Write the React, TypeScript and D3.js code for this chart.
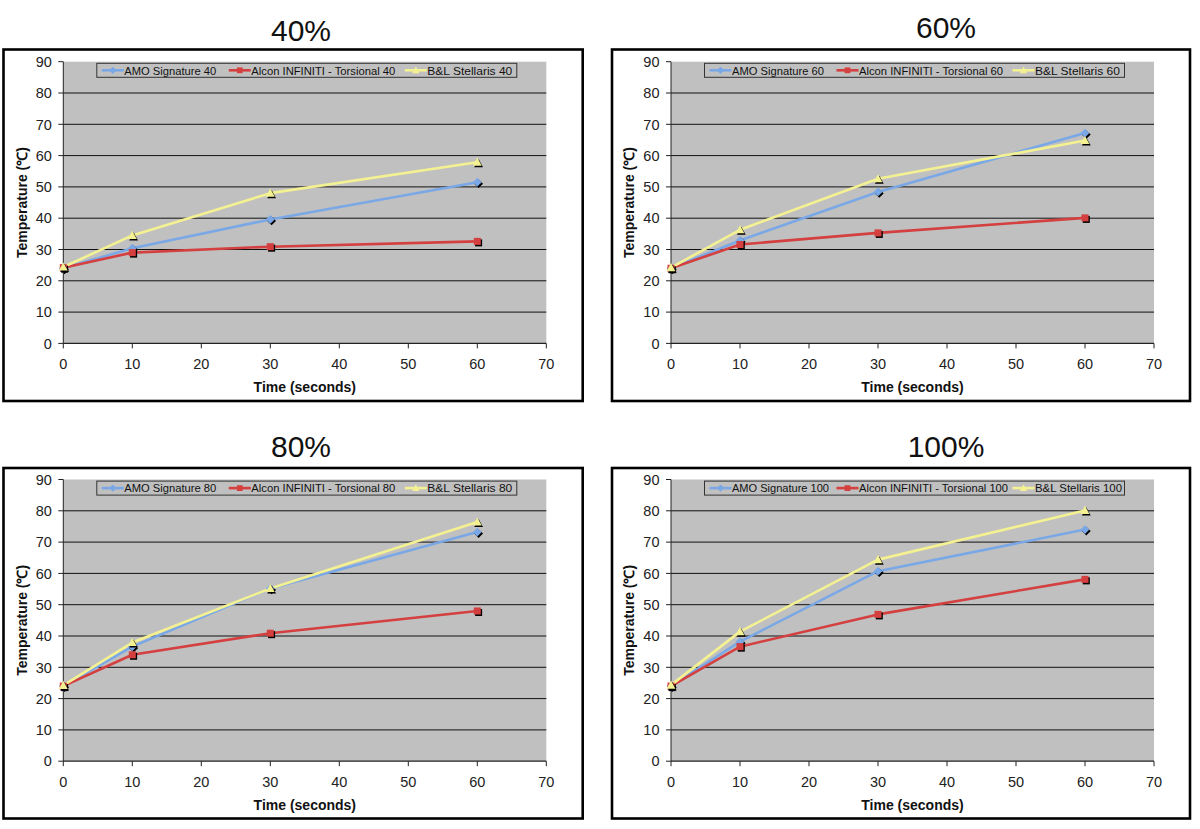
import React from "react";
import * as d3 from "d3";

const times = [0, 10, 30, 60];
const powerLevels = ["40", "60", "80", "100"];
const seriesNames = ["AMO Signature", "Alcon INFINITI - Torsional", "B&L Stellaris"];
const amoValues = [
  [24, 30.4, 39.6, 51.5],
  [24, 32.9, 48.4, 67.2],
  [24, 36.6, 55.2, 73.2],
  [24, 38.2, 60.7, 74.0],
];
const alconValues = [
  [24.2, 29.0, 30.9, 32.6],
  [24, 31.6, 35.3, 40.1],
  [24, 34.0, 40.9, 48.0],
  [24, 36.6, 46.9, 58.1],
];
const stellarisValues = [
  [24.4, 34.5, 48.0, 57.9],
  [24.2, 36.3, 52.6, 64.8],
  [24.2, 37.9, 55.2, 76.4],
  [24.3, 41.4, 64.4, 80.1],
];
const xTicks = [0, 10, 20, 30, 40, 50, 60, 70];
const yTicks = [0, 10, 20, 30, 40, 50, 60, 70, 80, 90];

const colors = ["#7AA8E6", "#D43F3F", "#F4F192"];
const markerTypes = ["diamond", "square", "triangle"];
const FONT = "'Liberation Sans', Arial, sans-serif";

const PW = 483;
const PH = 281.7;

// layout of the four panels
const panels = [
  { px: 63.3, py: 61.7, box: [3.5, 49.5, 582.7, 401], tx: 301, ty: 40.5 },
  { px: 671, py: 61.7, box: [612, 49.5, 1190, 401], tx: 946, ty: 37.5 },
  { px: 63.3, py: 479.5, box: [3.5, 468, 582.7, 818.5], tx: 301, ty: 457 },
  { px: 671, py: 479.5, box: [612, 468, 1190, 818.5], tx: 946, ty: 457 },
];

function markerPath(type: string, s: number) {
  if (type === "diamond") return `M0,${-s}L${s},0L0,${s}L${-s},0Z`;
  if (type === "square") return `M${-s * 0.8},${-s * 0.8}H${s * 0.8}V${s * 0.8}H${-s * 0.8}Z`;
  return `M0,${-s * 1.05}L${s},${s * 0.8}L${-s},${s * 0.8}Z`;
}

function Panel({ idx }: { idx: number }) {
  const p = panels[idx];
  const level = powerLevels[idx];
  const x = d3.scaleLinear().domain([0, 70]).range([0, PW]);
  const y = d3.scaleLinear().domain([0, 90]).range([PH, 0]);
  const line = d3
    .line<[number, number]>()
    .x((d) => x(d[0]))
    .y((d) => y(d[1]));
  const allSeries = [amoValues[idx], alconValues[idx], stellarisValues[idx]];
  const three = level.length === 3;
  const legendOffsets = [5, 132, 308];
  const legendWidths = three ? [97, 149, 87] : [92, 144, 85];
  const [bx0, by0, bx1, by1] = p.box;
  return (
    <g>
      <text
        x={p.tx}
        y={p.ty}
        textAnchor="middle"
        fontFamily={FONT}
        fontSize={30}
        fill="#111"
      >
        {level}%
      </text>
      <rect
        x={bx0}
        y={by0}
        width={bx1 - bx0}
        height={by1 - by0}
        fill="#fff"
        stroke="#000"
        strokeWidth={2.6}
      />
      <g transform={`translate(${p.px},${p.py})`}>
        <rect x={0} y={0} width={PW} height={PH} fill="#C0C0C0" />
        {yTicks
          .filter((t) => t > 0 && t < 90)
          .map((t) => (
            <line key={t} x1={0} x2={PW} y1={y(t)} y2={y(t)} stroke="#111" strokeWidth={1} />
          ))}
        {/* axes */}
        <line x1={0} x2={0} y1={0} y2={PH} stroke="#222" strokeWidth={1} />
        <line x1={0} x2={PW} y1={PH} y2={PH} stroke="#222" strokeWidth={1.2} />
        {yTicks.map((t) => (
          <g key={"y" + t}>
            <line x1={-5} x2={0} y1={y(t)} y2={y(t)} stroke="#222" />
            <text
              x={-11.5}
              y={y(t)}
              dy="0.36em"
              textAnchor="end"
              fontFamily={FONT}
              fontSize={14.5}
              fill="#222"
            >
              {t}
            </text>
          </g>
        ))}
        {xTicks.map((t) => (
          <g key={"x" + t}>
            <line x1={x(t)} x2={x(t)} y1={PH} y2={PH + 5} stroke="#222" />
            <text
              x={x(t)}
              y={PH + 25.5}
              textAnchor="middle"
              fontFamily={FONT}
              fontSize={14.5}
              fill="#222"
            >
              {t}
            </text>
          </g>
        ))}
        <text
          x={x(35)}
          y={PH + 48.5}
          textAnchor="middle"
          fontFamily={FONT}
          fontSize={14}
          fontWeight="bold"
          fill="#111"
        >
          Time (seconds)
        </text>
        <text
          transform={`translate(${-36.8},${PH / 2}) rotate(-90)`}
          textAnchor="middle"
          fontFamily={FONT}
          fontSize={14}
          fontWeight="bold"
          fill="#111"
        >
          Temperature (℃)
        </text>
        {/* series lines */}
        {allSeries.map((vals, si) => (
          <path
            key={"l" + si}
            d={line(times.map((t, i) => [t, vals[i]] as [number, number])) || ""}
            fill="none"
            stroke={colors[si]}
            strokeWidth={2.6}
            strokeLinejoin="round"
          />
        ))}
        {/* markers */}
        {allSeries.map((vals, si) =>
          times.map((t, i) => (
            <g key={`m${si}-${i}`} transform={`translate(${x(t)},${y(vals[i])})`}>
              <path d={markerPath(markerTypes[si], 4.4)} transform="translate(1.3,1.5)" fill="#000" />
              <path d={markerPath(markerTypes[si], 4.4)} fill={colors[si]} />
            </g>
          ))
        )}
        {/* legend */}
        <g transform="translate(33.5,1.6)">
          <rect x={0} y={0} width={420} height={14} fill="#C0C0C0" stroke="#333" strokeWidth={1} />
          {seriesNames.map((name, si) => (
            <g key={"lg" + si} transform={`translate(${legendOffsets[si]},7)`}>
              <line x1={0} x2={22} y1={0} y2={0} stroke={colors[si]} strokeWidth={2.6} />
              <path d={markerPath(markerTypes[si], 3.6)} transform="translate(11,0)" fill={colors[si]} />
              <text
                x={22.5}
                y={4.3}
                fontFamily={FONT}
                fontSize={11.5}
                fill="#111"
                textLength={legendWidths[si]}
                lengthAdjust="spacingAndGlyphs"
              >
                {name} {level}
              </text>
            </g>
          ))}
        </g>
      </g>
    </g>
  );
}

export default function App() {
  return (
    <div style={{ position: "absolute", left: 0, top: 0 }}>
      <svg width={1200} height={829} style={{ display: "block", background: "#fff" }}>
        <rect x={0} y={0} width={1200} height={829} fill="#fff" />
        {panels.map((_, i) => (
          <Panel key={i} idx={i} />
        ))}
      </svg>
    </div>
  );
}
